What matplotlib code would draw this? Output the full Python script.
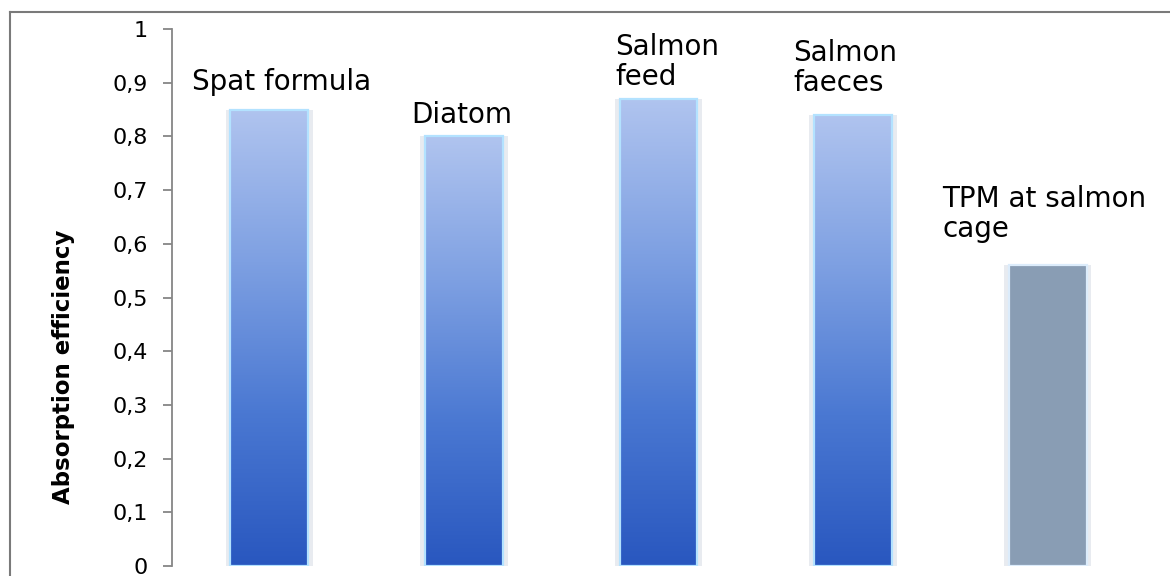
import numpy as np
import matplotlib.pyplot as plt
from matplotlib.colors import LinearSegmentedColormap
from matplotlib.lines import Line2D
from matplotlib.ticker import FuncFormatter

# data
categories = ['Spat formula', 'Diatom', 'Salmon\nfeed', 'Salmon\nfaeces', 'TPM at salmon\ncage']
efficiency = [0.85, 0.80, 0.87, 0.84, 0.56]
gradient_bar = [True, True, True, True, False]

# label placement (x offset from bar centre, y centre in data units)
label_dx = [-0.395, -0.27, -0.222, -0.307, -0.542]
label_y = [0.901, 0.839, 0.939, 0.928, 0.656]

font = 'DejaVu Sans'
blues = LinearSegmentedColormap.from_list('bars', ['#2957bf', '#4a78d2', '#7ea0e2', '#b0c4ef'])

fig = plt.figure(figsize=(11.7, 5.76), dpi=100)
ax = fig.add_axes([172 / 1170, 10 / 576, 973 / 1170, 537 / 576])

width = 0.4
for i, (v, grad) in enumerate(zip(efficiency, gradient_bar)):
    x0 = i - width / 2
    # soft glow round the bar
    ax.bar(i, v, width=width + 0.05, color='#e8ebf0', zorder=1)
    if grad:
        ramp = np.linspace(0, 1, 256).reshape(-1, 1)
        ax.imshow(ramp, extent=[x0, x0 + width, 0, v], origin='lower', cmap=blues,
                  aspect='auto', zorder=2, interpolation='bicubic')
        ax.bar(i, v, width=width, facecolor='none', edgecolor='#b3e2ff', linewidth=1.6, zorder=3)
    else:
        ax.bar(i, v, width=width, color='#899db4', edgecolor='#dcecfb', linewidth=1.6, zorder=3)
    ax.text(i + label_dx[i], label_y[i], categories[i], ha='left', va='center',
            fontsize=20, family=font, color='black', linespacing=1.1)

ax.set_xlim(-0.5, 4.5)
ax.set_ylim(0, 1)
ax.set_yticks(np.arange(0, 1.01, 0.1))
ax.yaxis.set_major_formatter(FuncFormatter(lambda v, p: ('%g' % round(v, 1)).replace('.', ',')))
ax.set_xticks([])
for s in ['top', 'right', 'bottom']:
    ax.spines[s].set_visible(False)
ax.spines['left'].set_color('#868686')
ax.spines['left'].set_linewidth(1.3)
ax.tick_params(axis='y', direction='out', length=6.5, width=1.3, color='#868686',
               labelsize=16, pad=11)
for t in ax.get_yticklabels():
    t.set_family(font)
ax.set_ylabel('Absorption efficiency', fontsize=16.5, fontweight='bold', family=font)
ax.yaxis.set_label_coords(-0.0997, 0.37)

# outer chart frame (left and top edges visible)
fig.add_artist(Line2D([10 / 1170, 10 / 1170], [0, 1 - 12 / 576], color='#7a7a7a', lw=1.5))
fig.add_artist(Line2D([10 / 1170, 1], [1 - 12 / 576, 1 - 12 / 576], color='#7a7a7a', lw=1.5))

fig.savefig('out.png', dpi=100)
